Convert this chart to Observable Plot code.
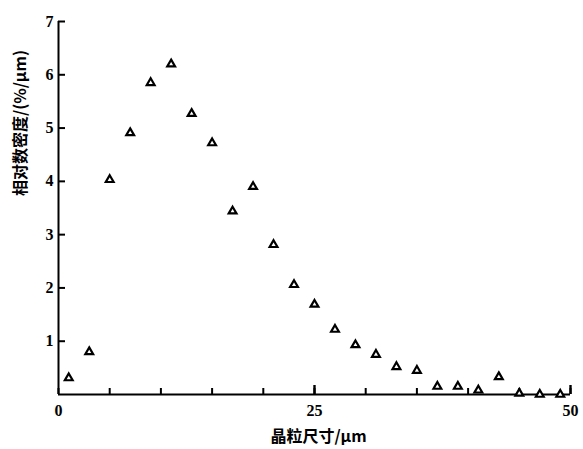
<!DOCTYPE html>
<html>
<head>
<meta charset="utf-8">
<script src="https://cdn.jsdelivr.net/npm/d3@7"></script>
<script src="https://cdn.jsdelivr.net/npm/@observablehq/plot@0.6"></script>
<style>
  html, body { margin: 0; padding: 0; background: #fff; }
  #chart { width: 583px; height: 449px; }
</style>
</head>
<body>
<div id="chart"></div>
<script>
const grainSize = [1, 3, 5, 7, 9, 11, 13, 15, 17, 19, 21, 23, 25, 27, 29, 31, 33, 35, 37, 39, 41, 43, 45, 47, 49];
const density = [0.31, 0.80, 4.03, 4.91, 5.85, 6.20, 5.27, 4.72, 3.44, 3.90, 2.81, 2.06, 1.69, 1.22, 0.93, 0.75, 0.52, 0.45, 0.15, 0.15, 0.08, 0.33, 0.02, 0.0, 0.0];
const xTicks = [0, 5, 10, 15, 20, 25, 30, 35, 40, 45, 50];
const xMajorTicks = [25, 50];
const xTickLabels = [0, 25, 50];
const yTicks = [1, 2, 3, 4, 5, 6, 7];
const xLabel = "晶粒尺寸/μm";
const yLabel = "相对数密度/(%/μm)";

const data = grainSize.map((x, i) => ({x, y: density[i]}));

const numFont = "'Liberation Serif', serif";
const cjkFont = "'Noto Sans CJK SC', sans-serif";

const W = 583, H = 449, ML = 58, MR = 13, MT = 21, MB = 55;
const frameW = W - ML - MR, frameH = H - MT - MB;

const plot = Plot.plot({
  width: W,
  height: H,
  marginLeft: ML,
  marginRight: MR,
  marginTop: MT,
  marginBottom: MB,
  style: {background: "#fff", color: "#000", overflow: "visible"},
  x: {domain: [0, 50], label: null},
  y: {domain: [0, 7], label: null},
  marks: [
    Plot.tickY(yTicks, {y: d => d, insetRight: frameW - 7, stroke: "#000", strokeWidth: 2}),
    Plot.tickX(xTicks, {x: d => d, insetTop: frameH - 6, stroke: "#000", strokeWidth: 2}),
    Plot.tickX(xMajorTicks, {x: d => d, insetTop: frameH - 9, stroke: "#000", strokeWidth: 2.4}),
    Plot.ruleX([0], {stroke: "#000", strokeWidth: 2}),
    Plot.ruleY([0], {stroke: "#000", strokeWidth: 2}),
    Plot.axisY(yTicks, {tickSize: 0, tickPadding: 5, tickFormat: "d", fontSize: 16, fontWeight: "bold", fontFamily: numFont, label: null}),
    Plot.axisX(xTickLabels, {tickSize: 0, tickPadding: 10, tickFormat: "d", fontSize: 16, fontWeight: "bold", fontFamily: numFont, label: null}),
    Plot.dot(data, {x: "x", y: "y", symbol: "triangle", r: 2.9, fill: "#fff", stroke: "#000", strokeWidth: 2.2}),
    Plot.text([yLabel], {text: d => d, frameAnchor: "left", rotate: -90, dx: -38, dy: -12, fontSize: 16, fontWeight: "bold", fontFamily: cjkFont, fill: "#000"}),
    Plot.text([xLabel], {text: d => d, frameAnchor: "bottom", dy: 47, dx: 4, fontSize: 16, fontWeight: "bold", fontFamily: cjkFont, fill: "#000"})
  ]
});
document.getElementById("chart").append(plot);
</script>
</body>
</html>
